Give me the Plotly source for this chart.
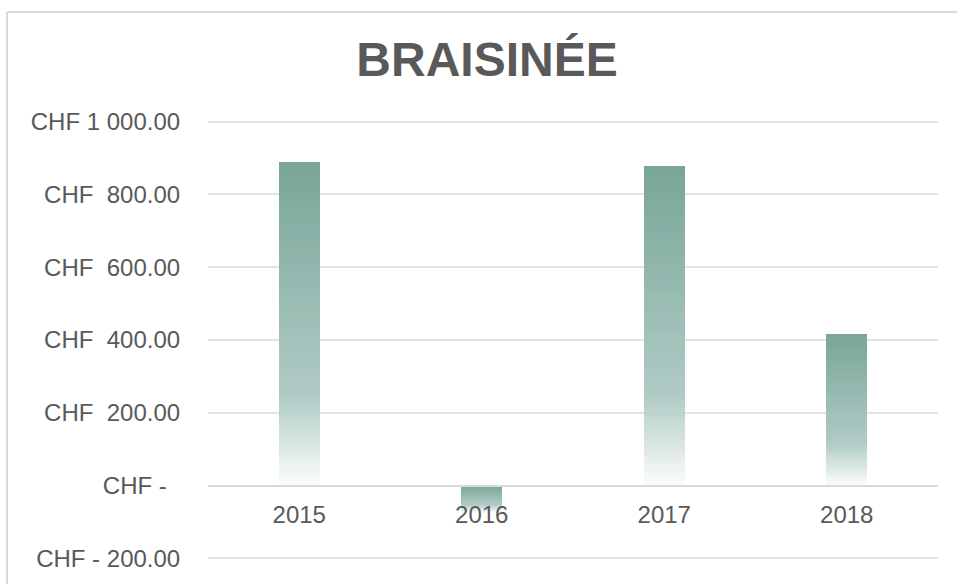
import plotly.graph_objects as go

# ---- data ----
years = ["2015", "2016", "2017", "2018"]
amounts = [890, -75, 877, 416]
tick_values = [-200, 0, 200, 400, 600, 800, 1000]
tick_labels = ["CHF - 200.00", "CHF -\u00a0\u00a0", "CHF\u00a0\u00a0200.00", "CHF\u00a0\u00a0400.00",
               "CHF\u00a0\u00a0600.00", "CHF\u00a0\u00a0800.00", "CHF 1\u00a0000.00"]
title_text = "BRAISINÉE"

# gradient stops (fraction from bar top -> colour)
grad_stops = [(0.0, (120, 166, 153)), (0.72, (176, 203, 197)), (1.0, (252, 253, 253))]


def grad_color(f):
    for (f0, c0), (f1, c1) in zip(grad_stops[:-1], grad_stops[1:]):
        if f <= f1:
            t = (f - f0) / (f1 - f0)
            c = [round(a + (b - a) * t) for a, b in zip(c0, c1)]
            return "rgb(%d,%d,%d)" % tuple(c)
    return "rgb(%d,%d,%d)" % grad_stops[-1][1]


N = 70
xs, bases, hs, cols = [], [], [], []
for yr, v in zip(years, amounts):
    top = max(v, 0)
    bot = min(v, 0)
    span = top - bot
    for k in range(N):
        lo = top - span * (k + 1) / N
        xs.append(yr)
        bases.append(lo)
        hs.append(span / N)
        cols.append(grad_color((k + 0.5) / N))

fig = go.Figure()
fig.add_trace(go.Bar(
    x=xs, y=hs, base=bases, width=0.225,
    marker=dict(color=cols, line=dict(width=0)),
    hoverinfo="skip", showlegend=False,
))

ymin, ymax = -210, 1010
T, B = 118, 22
H = 584 - T - B
bx0 = (7 - 208) / 730
bx1 = (1000 - 208) / 730
by0 = (584 - B - 700) / H
by1 = (584 - B - 12) / H
border = dict(color="#d9d9d9", width=2)
fig.update_layout(
    width=957, height=584, autosize=False,
    margin=dict(l=208, r=19, t=T, b=B),
    paper_bgcolor="white", plot_bgcolor="white",
    barmode="overlay", bargap=0,
    font=dict(family="Liberation Sans, Arial, sans-serif", size=24, color="#595959"),
    title=dict(text="<b>%s</b>" % title_text, font=dict(size=48, color="#595959"),
               x=487 / 957, xanchor="center", xref="container",
               y=1 - 59 / 584, yanchor="middle", yref="container"),
    xaxis=dict(type="category", categoryorder="array", categoryarray=years,
               anchor="free", position=(0 - ymin) / (ymax - ymin),
               showline=True, linecolor="#d9d9d9", linewidth=2,
               showgrid=False, ticks="outside", ticklen=8, tickcolor="rgba(0,0,0,0)",
               tickfont=dict(size=24, color="#595959")),
    yaxis=dict(range=[ymin, ymax], tickvals=tick_values, ticktext=tick_labels,
               showgrid=True, gridcolor="#e2e2e2", gridwidth=2,
               zeroline=False, showline=False,
               ticks="outside", ticklen=22, tickcolor="rgba(0,0,0,0)",
               tickfont=dict(size=24, color="#595959")),
    shapes=[
        dict(type="line", xref="paper", yref="paper", x0=bx0, x1=bx0, y0=by0, y1=by1,
             line=border, layer="below"),
        dict(type="line", xref="paper", yref="paper", x0=bx0, x1=bx1, y0=by1, y1=by1,
             line=border, layer="below"),
    ],
)

fig.write_html("out.html", config={"displayModeBar": False},
               post_script="document.body.style.margin='0';document.body.style.overflow='hidden';")
